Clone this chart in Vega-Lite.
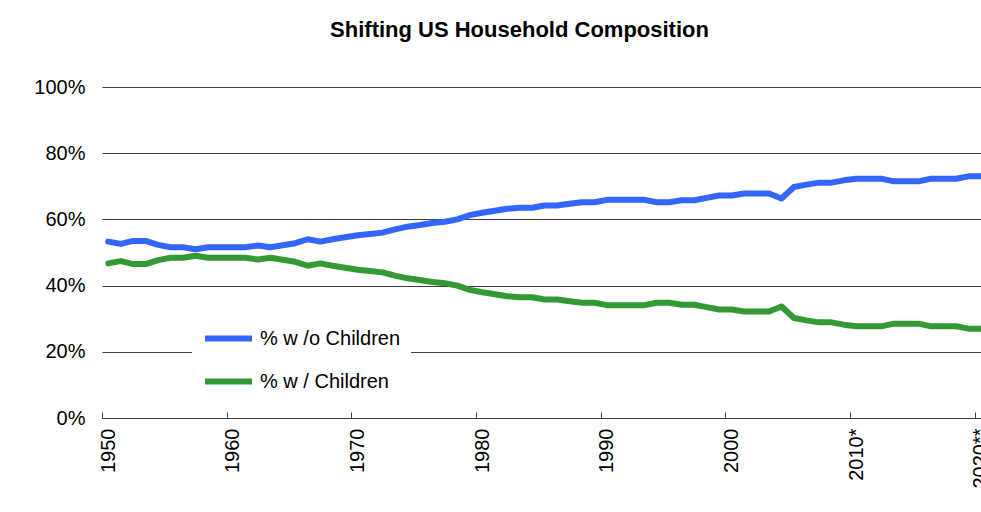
{
  "$schema": "https://vega.github.io/schema/vega-lite/v6.json",
  "autosize": {"type": "none"},
  "padding": {"left": 102, "top": 87, "right": 0, "bottom": 94},
  "width": 879,
  "height": 331,
  "background": "white",
  "config": {
    "font": "Liberation Sans",
    "view": {"stroke": null}
  },
  "title": {
    "text": "Shifting US Household Composition",
    "fontSize": 22,
    "fontWeight": "bold",
    "font": "Liberation Sans",
    "color": "black",
    "anchor": "middle",
    "dx": -22,
    "offset": 35
  },
  "datasets": {
    "wo": [
      {"year": 1950, "value": 53.3}, {"year": 1951, "value": 52.6}, {"year": 1952, "value": 53.5}, {"year": 1953, "value": 53.5},
      {"year": 1954, "value": 52.3}, {"year": 1955, "value": 51.6}, {"year": 1956, "value": 51.6}, {"year": 1957, "value": 51.0},
      {"year": 1958, "value": 51.6}, {"year": 1959, "value": 51.6}, {"year": 1960, "value": 51.6}, {"year": 1961, "value": 51.6},
      {"year": 1962, "value": 52.1}, {"year": 1963, "value": 51.6}, {"year": 1964, "value": 52.2}, {"year": 1965, "value": 52.8},
      {"year": 1966, "value": 54.0}, {"year": 1967, "value": 53.3}, {"year": 1968, "value": 54.0}, {"year": 1969, "value": 54.6},
      {"year": 1970, "value": 55.2}, {"year": 1971, "value": 55.6}, {"year": 1972, "value": 56.0}, {"year": 1973, "value": 57.0},
      {"year": 1974, "value": 57.8}, {"year": 1975, "value": 58.3}, {"year": 1976, "value": 58.9}, {"year": 1977, "value": 59.3},
      {"year": 1978, "value": 60.0}, {"year": 1979, "value": 61.3}, {"year": 1980, "value": 62.0}, {"year": 1981, "value": 62.6},
      {"year": 1982, "value": 63.2}, {"year": 1983, "value": 63.5}, {"year": 1984, "value": 63.5}, {"year": 1985, "value": 64.2},
      {"year": 1986, "value": 64.2}, {"year": 1987, "value": 64.7}, {"year": 1988, "value": 65.2}, {"year": 1989, "value": 65.2},
      {"year": 1990, "value": 65.9}, {"year": 1991, "value": 65.9}, {"year": 1992, "value": 65.9}, {"year": 1993, "value": 65.9},
      {"year": 1994, "value": 65.2}, {"year": 1995, "value": 65.2}, {"year": 1996, "value": 65.8}, {"year": 1997, "value": 65.8},
      {"year": 1998, "value": 66.5}, {"year": 1999, "value": 67.2}, {"year": 2000, "value": 67.2}, {"year": 2001, "value": 67.8},
      {"year": 2002, "value": 67.8}, {"year": 2003, "value": 67.8}, {"year": 2004, "value": 66.3}, {"year": 2005, "value": 69.8},
      {"year": 2006, "value": 70.5}, {"year": 2007, "value": 71.1}, {"year": 2008, "value": 71.1}, {"year": 2009, "value": 71.8},
      {"year": 2010, "value": 72.3}, {"year": 2011, "value": 72.3}, {"year": 2012, "value": 72.3}, {"year": 2013, "value": 71.5},
      {"year": 2014, "value": 71.5}, {"year": 2015, "value": 71.5}, {"year": 2016, "value": 72.3}, {"year": 2017, "value": 72.3},
      {"year": 2018, "value": 72.3}, {"year": 2019, "value": 73.0}, {"year": 2020, "value": 73.0}
    ],
    "w": [
      {"year": 1950, "value": 46.7}, {"year": 1951, "value": 47.4}, {"year": 1952, "value": 46.5}, {"year": 1953, "value": 46.5},
      {"year": 1954, "value": 47.7}, {"year": 1955, "value": 48.4}, {"year": 1956, "value": 48.4}, {"year": 1957, "value": 49.0},
      {"year": 1958, "value": 48.4}, {"year": 1959, "value": 48.4}, {"year": 1960, "value": 48.4}, {"year": 1961, "value": 48.4},
      {"year": 1962, "value": 47.9}, {"year": 1963, "value": 48.4}, {"year": 1964, "value": 47.8}, {"year": 1965, "value": 47.2},
      {"year": 1966, "value": 46.0}, {"year": 1967, "value": 46.7}, {"year": 1968, "value": 46.0}, {"year": 1969, "value": 45.4},
      {"year": 1970, "value": 44.8}, {"year": 1971, "value": 44.4}, {"year": 1972, "value": 44.0}, {"year": 1973, "value": 43.0},
      {"year": 1974, "value": 42.2}, {"year": 1975, "value": 41.7}, {"year": 1976, "value": 41.1}, {"year": 1977, "value": 40.7},
      {"year": 1978, "value": 40.0}, {"year": 1979, "value": 38.7}, {"year": 1980, "value": 38.0}, {"year": 1981, "value": 37.4},
      {"year": 1982, "value": 36.8}, {"year": 1983, "value": 36.5}, {"year": 1984, "value": 36.5}, {"year": 1985, "value": 35.8},
      {"year": 1986, "value": 35.8}, {"year": 1987, "value": 35.3}, {"year": 1988, "value": 34.8}, {"year": 1989, "value": 34.8},
      {"year": 1990, "value": 34.1}, {"year": 1991, "value": 34.1}, {"year": 1992, "value": 34.1}, {"year": 1993, "value": 34.1},
      {"year": 1994, "value": 34.8}, {"year": 1995, "value": 34.8}, {"year": 1996, "value": 34.2}, {"year": 1997, "value": 34.2},
      {"year": 1998, "value": 33.5}, {"year": 1999, "value": 32.8}, {"year": 2000, "value": 32.8}, {"year": 2001, "value": 32.2},
      {"year": 2002, "value": 32.2}, {"year": 2003, "value": 32.2}, {"year": 2004, "value": 33.7}, {"year": 2005, "value": 30.2},
      {"year": 2006, "value": 29.5}, {"year": 2007, "value": 28.9}, {"year": 2008, "value": 28.9}, {"year": 2009, "value": 28.2},
      {"year": 2010, "value": 27.7}, {"year": 2011, "value": 27.7}, {"year": 2012, "value": 27.7}, {"year": 2013, "value": 28.5},
      {"year": 2014, "value": 28.5}, {"year": 2015, "value": 28.5}, {"year": 2016, "value": 27.7}, {"year": 2017, "value": 27.7},
      {"year": 2018, "value": 27.7}, {"year": 2019, "value": 27.0}, {"year": 2020, "value": 27.0}
    ]
  },
  "layer": [
    {
      "data": {"name": "wo"},
      "mark": {"type": "line", "strokeWidth": 6, "strokeJoin": "round", "strokeCap": "round", "clip": true},
      "encoding": {
        "x": {
          "field": "year", "type": "quantitative",
          "scale": {"domain": [1949.5, 2020], "nice": false, "zero": false},
          "axis": {
            "title": null,
            "values": [1949.5, 1959.5, 1969.5, 1979.5, 1989.5, 1999.5, 2009.5, 2019.5],
            "labelExpr": "datum.value < 2005 ? format(datum.value + 0.5, 'd') : (datum.value < 2015 ? '2010*' : '2020**')",
            "labelAngle": -90,
            "labelAlign": "right",
            "labelBaseline": "middle",
            "labelOffset": 6,
            "labelFlush": false,
            "labelOverlap": false,
            "labelBound": false,
            "labelFontSize": 20,
            "labelColor": "black",
            "labelFont": "Liberation Sans",
            "labelPadding": 16,
            "tickSize": -6,
            "tickColor": "#404040",
            "domainColor": "#404040",
            "grid": false
          }
        },
        "y": {
          "field": "value", "type": "quantitative",
          "scale": {"domain": [0, 100], "nice": false},
          "axis": {
            "title": null,
            "values": [0, 20, 40, 60, 80, 100],
            "labelExpr": "datum.value + '%'",
            "labelFontSize": 20,
            "labelColor": "black",
            "labelFont": "Liberation Sans",
            "labelPadding": 17,
            "domain": false,
            "ticks": false,
            "grid": true,
            "gridColor": "#404040",
            "gridOpacity": 1
          }
        },
        "color": {"datum": "% w /o Children", "type": "nominal",
          "scale": {"domain": ["% w /o Children", "% w / Children"], "range": ["#3366ff", "#339933"]},
          "legend": {
            "title": null,
            "orient": "none",
            "legendX": 90,
            "legendY": 215,
            "fillColor": "white",
            "padding": 10,
            "symbolType": "stroke",
            "symbolSize": 2209,
            "symbolStrokeWidth": 6,
            "labelFontSize": 20,
            "labelFont": "Liberation Sans",
            "labelColor": "black",
            "labelOffset": 5,
            "rowPadding": 4
          }
        }
      }
    },
    {
      "data": {"name": "w"},
      "mark": {"type": "line", "strokeWidth": 6, "strokeJoin": "round", "strokeCap": "round", "clip": true},
      "encoding": {
        "x": {"field": "year", "type": "quantitative"},
        "y": {"field": "value", "type": "quantitative"},
        "color": {"datum": "% w / Children", "type": "nominal"}
      }
    }
  ]
}
